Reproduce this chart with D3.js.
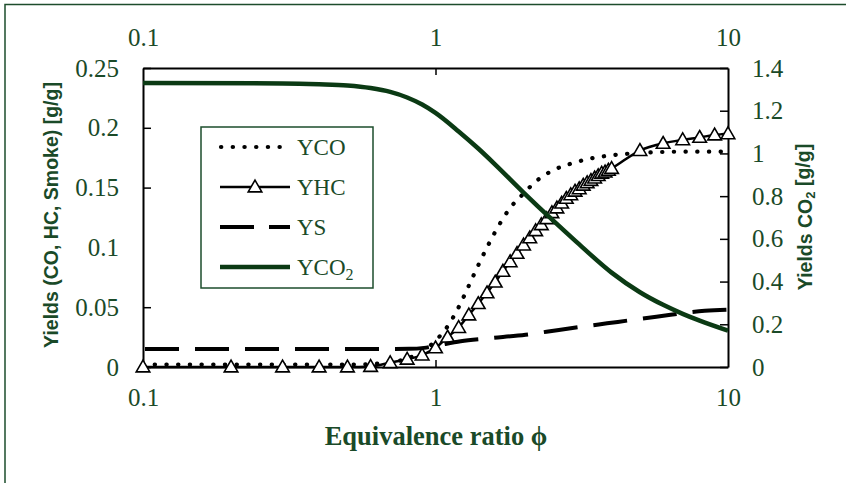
<!DOCTYPE html>
<html>
<head>
<meta charset="utf-8">
<script src="https://cdn.jsdelivr.net/npm/d3@7"></script>
<style>
  body { margin: 0; background: #fff; }
  svg { display: block; }
</style>
</head>
<body>
<svg id="chart" width="846" height="483"></svg>
<script>
// equivalence ratio samples and yields
var hcPhi = [0.1, 0.2, 0.3, 0.4, 0.5, 0.6, 0.7, 0.8, 0.9, 1.0,
	1.1, 1.2, 1.3, 1.4, 1.5, 1.6, 1.7, 1.8, 1.9, 2.0,
	2.1, 2.2, 2.3, 2.4, 2.5, 2.6, 2.7, 2.8, 2.9, 3.0,
	3.1, 3.2, 3.3, 3.4, 3.5, 3.6, 3.7, 3.8, 3.9, 4.0,
	5, 6, 7, 8, 9, 10];
var hcYield = [0, 0, 0, 0, 0, 0.0005, 0.0036, 0.0065, 0.010, 0.016,
	0.025, 0.033, 0.0435, 0.053, 0.062, 0.071, 0.080, 0.088, 0.095, 0.102,
	0.108, 0.114, 0.119, 0.124, 0.129, 0.133, 0.137, 0.141, 0.144, 0.147,
	0.149, 0.152, 0.154, 0.156, 0.158, 0.160, 0.162, 0.163, 0.1645, 0.166,
	0.181, 0.187, 0.190, 0.192, 0.194, 0.195];

var coPhi = [0.1, 0.3, 0.5, 0.6, 0.7, 0.8, 0.9, 1.0, 1.1, 1.2, 1.3, 1.4, 1.5, 1.6, 1.8,
	2.0, 2.2, 2.5, 3.0, 3.5, 4.0, 5.0, 7.0, 10];
var coYield = [0.002, 0.002, 0.002, 0.0025, 0.004, 0.007, 0.013, 0.022, 0.034, 0.050, 0.068, 0.085, 0.100, 0.113, 0.133,
	0.145, 0.155, 0.164, 0.171, 0.175, 0.177, 0.179, 0.180, 0.180];

var smokePhi = [0.1, 0.5, 0.8, 0.9, 1.0, 1.2, 1.5, 2.0, 2.6, 3.8, 5.6, 8.2, 10];
var smokeYield = [0.015, 0.015, 0.0152, 0.016, 0.018, 0.0215, 0.024, 0.027, 0.031, 0.0365, 0.042, 0.047, 0.048];

var co2Phi = [0.1, 0.3, 0.4, 0.5, 0.6, 0.7, 0.8, 0.9, 1.0, 1.2, 1.4, 1.6, 2.0, 2.5, 3.0, 4.0, 5.0, 6.0, 7.0, 8.0, 10];
var co2Yield = [1.33, 1.328, 1.324, 1.318, 1.306, 1.288, 1.262, 1.229, 1.19, 1.103, 1.023, 0.948, 0.817, 0.691, 0.592, 0.442, 0.35, 0.291, 0.249, 0.217, 0.170];

var xTicks = [0.1, 1, 10];
var leftTicks = [0, 0.05, 0.1, 0.15, 0.2, 0.25];
var rightTicks = [0, 0.2, 0.4, 0.6, 0.8, 1, 1.2, 1.4];

var legendNames = ['YCO', 'YHC', 'YS', 'YCO'];

var textColor = '#1a4a28';
var greenLine = '#0b3a14';
var serif = '"Liberation Serif", "Times New Roman", serif';
var sans = '"Liberation Sans", Arial, sans-serif';

var svg = d3.select('#chart');

// outer frame
svg.append('rect')
	.attr('x', 5).attr('y', 4.5)
	.attr('width', 900).attr('height', 600)
	.style('fill', 'none')
	.style('stroke', '#1d4d2c')
	.style('stroke-width', 1.5);

var x = d3.scaleLog().domain([0.1, 10]).range([143, 728]);
var yL = d3.scaleLinear().domain([0, 0.25]).range([367, 68]);
var yR = d3.scaleLinear().domain([0, 1.4]).range([367, 68]);

function fmt(d) { return String(d); }

function styleAxis(g) {
	g.select('.domain').style('stroke', '#000').style('stroke-width', 2);
	g.selectAll('.tick line').style('stroke', '#000').style('stroke-width', 1.5);
	g.selectAll('text')
		.style('font-family', serif)
		.style('font-size', '25px')
		.style('fill', textColor);
}

svg.append('g')
	.attr('transform', 'translate(0,367)')
	.call(d3.axisBottom(x).tickValues(xTicks).tickFormat(fmt).tickSize(-7).tickSizeOuter(0).tickPadding(21))
	.call(styleAxis);

svg.append('g')
	.attr('transform', 'translate(0,68)')
	.call(d3.axisTop(x).tickValues(xTicks).tickFormat(fmt).tickSize(-7).tickSizeOuter(0).tickPadding(22))
	.call(styleAxis);

svg.append('g')
	.attr('transform', 'translate(143,0)')
	.call(d3.axisLeft(yL).tickValues(leftTicks).tickFormat(fmt).tickSize(-8).tickSizeOuter(0).tickPadding(24))
	.call(styleAxis);

svg.append('g')
	.attr('transform', 'translate(728,0)')
	.call(d3.axisRight(yR).tickValues(rightTicks).tickFormat(fmt).tickSize(-8).tickSizeOuter(0).tickPadding(24))
	.call(styleAxis);

// hide end ticks on the x axes that sit on the frame
svg.selectAll('.tick').filter(function(d) { return d === 0.1 || d === 10; })
	.select('line').style('stroke-opacity', 0);

// series
function pairs(xs, ys) {
	return xs.map(function(v, i) { return [v, ys[i]]; });
}

var lineL = d3.line()
	.x(function(d) { return x(d[0]); })
	.y(function(d) { return yL(d[1]); })
	.curve(d3.curveMonotoneX);
var lineR = d3.line()
	.x(function(d) { return x(d[0]); })
	.y(function(d) { return yR(d[1]); })
	.curve(d3.curveMonotoneX);

svg.append('path')
	.attr('d', lineL(pairs(coPhi, coYield)))
	.style('fill', 'none')
	.style('stroke', '#000')
	.style('stroke-width', 4.2)
	.style('stroke-linecap', 'round')
	.style('stroke-dasharray', '0.3,11.4');

svg.append('path')
	.attr('d', lineL(pairs(hcPhi, hcYield)))
	.style('fill', 'none')
	.style('stroke', '#000')
	.style('stroke-width', 2.5);

var tri = d3.symbol().type(d3.symbolTriangle).size(80);
svg.selectAll('path.hc')
	.data(pairs(hcPhi, hcYield))
	.enter()
	.append('path')
	.attr('class', 'hc')
	.attr('d', tri)
	.attr('transform', function(d) {
		return 'translate(' + x(d[0]) + ',' + (yL(d[1]) + 1) + ')';
	})
	.style('fill', '#fff')
	.style('stroke', '#000')
	.style('stroke-width', 1.6);

svg.append('path')
	.attr('d', lineL(pairs(smokePhi, smokeYield)))
	.style('fill', 'none')
	.style('stroke', '#000')
	.style('stroke-width', 4)
	.style('stroke-dasharray', '34,16')
	.attr('transform', 'translate(2,0)');

svg.append('path')
	.attr('d', lineR(pairs(co2Phi, co2Yield)))
	.style('fill', 'none')
	.style('stroke', greenLine)
	.style('stroke-width', 4.5);

// legend
var legend = svg.append('g');
legend.append('rect')
	.attr('x', 201).attr('y', 127)
	.attr('width', 172).attr('height', 161)
	.style('fill', '#fff')
	.style('stroke', '#1d4d2c')
	.style('stroke-width', 1.5);

var rowY = [147, 187, 227, 267];
var rowStyles = [
	{ color: '#000', width: 4.2, dash: '0.3,11.4', cap: 'round' },
	{ color: '#000', width: 2.5, dash: null, cap: 'butt' },
	{ color: '#000', width: 4, dash: '34,15,21', cap: 'butt' },
	{ color: greenLine, width: 4.5, dash: null, cap: 'butt' }
];
legendNames.forEach(function(name, i) {
	var s = rowStyles[i];
	legend.append('line')
		.attr('x1', i === 0 ? 221 : 220).attr('x2', 290)
		.attr('y1', rowY[i]).attr('y2', rowY[i])
		.style('stroke', s.color)
		.style('stroke-width', s.width)
		.style('stroke-linecap', s.cap)
		.style('stroke-dasharray', s.dash);
	if (i === 1) {
		legend.append('path')
			.attr('d', tri)
			.attr('transform', 'translate(255,' + (rowY[i] + 1) + ')')
			.style('fill', '#fff')
			.style('stroke', '#000')
			.style('stroke-width', 1.6);
	}
	var t = legend.append('text')
		.attr('x', 297).attr('y', rowY[i])
		.attr('dy', '0.35em')
		.style('font-family', serif)
		.style('font-size', '23px')
		.style('fill', textColor)
		.text(name);
	if (i === 3) {
		t.append('tspan').attr('dy', '0.3em').style('font-size', '16px').text('2');
	}
});

// axis titles
svg.append('text')
	.attr('transform', 'translate(57.5,215) rotate(-90)')
	.attr('text-anchor', 'middle')
	.style('font-family', sans)
	.style('font-weight', 'bold')
	.style('font-size', '19.5px')
	.style('fill', textColor)
	.text('Yields (CO, HC, Smoke) [g/g]');

var rt = svg.append('text')
	.attr('transform', 'translate(812,217) rotate(-90)')
	.attr('text-anchor', 'middle')
	.style('font-family', sans)
	.style('font-weight', 'bold')
	.style('font-size', '19.5px')
	.style('fill', textColor);
rt.append('tspan').text('Yields CO');
rt.append('tspan').attr('dy', '0.25em').style('font-size', '13px').text('2');
rt.append('tspan').attr('dy', '-0.25em').text(' [g/g]');

svg.append('text')
	.attr('x', 436).attr('y', 445)
	.attr('text-anchor', 'middle')
	.style('font-family', serif)
	.style('font-weight', 'bold')
	.style('font-size', '26.5px')
	.style('fill', textColor)
	.text('Equivalence ratio \u03D5');
</script>
</body>
</html>
